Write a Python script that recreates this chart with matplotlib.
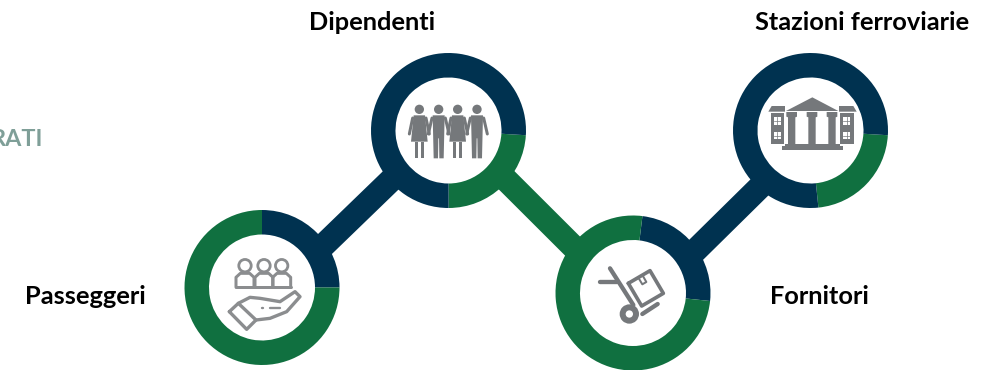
import matplotlib
matplotlib.use("Agg")
import matplotlib.pyplot as plt
from matplotlib.patches import Polygon, Circle, Rectangle

NAVY = "#003250"
GREEN = "#107040"

# Data: share of each ring, clockwise from its start angle
names = ["Passeggeri", "Dipendenti", "Fornitori", "Stazioni ferroviarie"]
first_share = [25, 24, 24.7, 22.4]
second_share = [75, 76, 75.3, 77.6]
first_color = [NAVY, GREEN, NAVY, GREEN]
second_color = [GREEN, NAVY, GREEN, NAVY]
start_angle = [90, -3.5, 83, -3.5]

centers_x = [262, 448.5, 633, 810.5]
centers_y = [287.5, 130.5, 293, 130.5]
label_x = [85.5, 372.5, 819.5, 862.5]
label_y = [296, 23, 296, 23]
GREY = "#75787B"
W, H = 998, 370


def Y(y):
    return H - y


fig = plt.figure(figsize=(W / 100, H / 100), dpi=100)
ax = fig.add_axes([0, 0, 1, 1])

# connectors
for (x0, y0, x1, y1, c) in [(314, 254.6, 402, 169.5, NAVY),
                            (497, 170.7, 583, 256.5, GREEN),
                            (687, 258.8, 769, 178, NAVY)]:
    ax.plot([x0, x1], [Y(y0), Y(y1)], color=c, lw=24 * 0.72, solid_capstyle="butt", zorder=1)

# rings
for i in range(4):
    ax.pie([first_share[i], second_share[i]], colors=[first_color[i], second_color[i]],
           startangle=start_angle[i], counterclock=False, radius=77.5,
           center=(centers_x[i], Y(centers_y[i])),
           wedgeprops=dict(width=24.5, edgecolor="none", zorder=2))

ax.set_xlim(0, W)
ax.set_ylim(0, H)
ax.set_aspect("auto")
ax.axis("off")


# icons are sketched in 3x zoomed coordinates relative to an origin
def maker(ox, oy):
    def p(x, y):
        return ox + x / 3, Y(oy + y / 3)

    def line(pts, lw, color=GREY):
        xy = [p(a, b) for a, b in pts]
        ax.plot([q[0] for q in xy], [q[1] for q in xy], color=color, lw=lw * 0.72 / 3,
                solid_capstyle="round", solid_joinstyle="round", zorder=3)

    def poly(pts, color=GREY):
        ax.add_patch(Polygon([p(a, b) for a, b in pts], closed=True, fc=color, ec="none", zorder=3))

    def circ(x, y, r, color=GREY, z=3):
        ax.add_patch(Circle(p(x, y), r / 3, fc=color, ec="none", zorder=z))

    return line, poly, circ


# Passeggeri: people over a hand
line, poly, circ = maker(170, 200)
G1 = "#8b8d8f"
for cx in [225, 282, 335]:
    ax.add_patch(Circle((170 + cx / 3, Y(200 + 197 / 3)), 6.2, fc="none", ec=G1, lw=2.0, zorder=3))
    line([(cx - 27, 262), (cx - 27, 232), (cx - 14, 220), (cx + 14, 220), (cx + 27, 232), (cx + 27, 262)], 9, G1)
line([(198, 262), (362, 262)], 9, G1)
line([(178, 335), (205, 310), (258, 360), (230, 388), (178, 335)], 10, G1)
line([(205, 310), (240, 292), (270, 295), (330, 305), (375, 275), (390, 290), (350, 335), (300, 355), (258, 360)], 10, G1)
line([(275, 323), (280, 323)], 7, G1)
line([(300, 323), (330, 323)], 7, G1)

# Dipendenti: four figures
line, poly, circ = maker(360, 40)
for k, cx in enumerate([178, 236, 293, 351]):
    circ(cx, 208, 14)
    if k % 2 == 0:
        poly([(cx - 17, 226), (cx + 17, 226), (cx + 25, 305), (cx - 25, 305)])
        line([(cx - 20, 234), (cx - 30, 282)], 9)
        line([(cx + 20, 234), (cx + 30, 282)], 9)
        poly([(cx - 14, 305), (cx - 4, 305), (cx - 4, 355), (cx - 14, 355)])
        poly([(cx + 4, 305), (cx + 14, 305), (cx + 14, 355), (cx + 4, 355)])
    else:
        poly([(cx - 18, 226), (cx + 18, 226), (cx + 15, 355), (cx + 2, 355), (cx + 1, 295), (cx - 1, 295), (cx - 2, 355), (cx - 15, 355)])
        line([(cx + 20, 234), (cx + 31, 282)], 9)
        line([(cx - 20, 234), (cx - 31, 282)], 9)

# Fornitori: hand truck with box
line, poly, circ = maker(545, 205)
line([(165, 230), (215, 230)], 13)
line([(195, 190), (265, 300)], 13)
line([(292, 327), (338, 297)], 13)
circ(253, 327, 29)
circ(253, 327, 11, "white")
line([(250, 235), (315, 197), (355, 265), (290, 303), (250, 235)], 11)
line([(280, 218), (292, 238), (304, 231), (292, 210)], 6)

# Stazioni ferroviarie: building with columns
line, poly, circ = maker(725, 40)
poly([(183, 213), (262, 172), (340, 213)])
poly([(130, 215), (140, 198), (180, 198), (180, 215)])
poly([(342, 198), (385, 198), (395, 215), (342, 215)])
for x0, x1 in [(137, 178), (345, 387)]:
    ax.add_patch(Rectangle((725 + x0 / 3, Y(40 + 312 / 3)), (x1 - x0) / 3, 94 / 3, fc=GREY, ec="none", zorder=3))
    for wy in [232, 276]:
        wx = x0 + 10
        ax.add_patch(Rectangle((725 + wx / 3, Y(40 + (wy + 22) / 3)), 21 / 3, 22 / 3, fc="white", ec="none", zorder=4))
        ax.plot([725 + (wx + 10) / 3] * 2, [Y(40 + wy / 3), Y(40 + (wy + 22) / 3)], color=GREY, lw=0.5, zorder=5)
        ax.plot([725 + wx / 3, 725 + (wx + 21) / 3], [Y(40 + (wy + 11) / 3)] * 2, color=GREY, lw=0.5, zorder=5)
for cx in [200, 261, 321]:
    poly([(cx - 16, 216), (cx + 16, 216), (cx + 16, 230), (cx + 11, 232), (cx + 11, 312), (cx - 11, 312), (cx - 11, 232), (cx - 16, 230)])
poly([(180, 312), (345, 312), (345, 318), (355, 318), (355, 330), (170, 330), (170, 318), (180, 318)])

# labels
for i in range(4):
    ax.text(label_x[i], Y(label_y[i]), names[i], family="Lato", fontweight="bold", fontsize=18.3,
            color="black", ha="center", va="center")
ax.text(43, Y(139), "RATI", family="Lato", fontweight="bold", fontsize=16.8, color="#7f9f98", ha="right", va="center")

fig.savefig("out.png", dpi=100, facecolor="white")
